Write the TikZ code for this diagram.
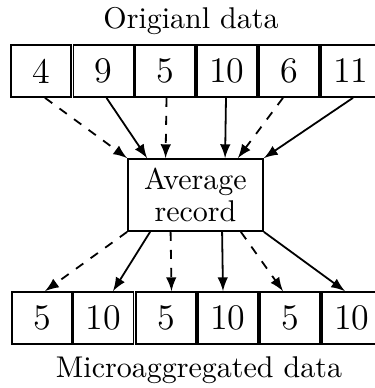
\documentclass[tikz,border=0pt]{standalone}
\usetikzlibrary{calc}
\tikzset{cell/.style={draw,font=\large,minimum width=20pt,minimum height=17.3pt,inner sep=0pt},
         avgbox/.style={draw,align=center,minimum width=45pt,minimum height=24pt,inner sep=0pt}}

\begin{document}
\begin{tikzpicture}[x=0.3333pt,y=-0.3333pt,>=latex,semithick]
        \useasboundingbox (0,0) rectangle (375,388);
        \node (orig) at (191,21) {Origianl data};
        \node[cell] (t1) at (41,71) {4};
        \node[cell] (t2) at (103.5,71) {9};
        \node[cell] (t3) at (165,71) {5};
        \node[cell] (t4) at (227,71) {10};
        \node[cell] (t5) at (289,71) {6};
        \node[cell] (t6) at (351,71) {11};
        \node[avgbox] (avg) at (195.5,195) {Average\\[-1.5pt]record};
        \node[cell] (b1) at (42,318) {5};
        \node[cell] (b2) at (103.5,318) {10};
        \node[cell] (b3) at (166,318) {5};
        \node[cell] (b4) at (228,318) {10};
        \node[cell] (b5) at (290,318) {5};
        \node[cell] (b6) at (352,318) {10};
        \node (micro) at (199,370.5) {Microaggregated data};
        % into the average record
        \draw [->, dashed] ($(t1.south)+(4,0)$) -- (avg.north west);
        \draw [->] ($(t2.south)+(3,0)$) -- ($(avg.north west)+(20,0)$);
        \draw [->, dashed] ($(t3.south)+(1.5,0)$) -- ($(avg.north west)+(38.5,0)$);
        \draw [->] ($(t4.south)+(-1,0)$) -- ($(avg.north west)+(98,0)$);
        \draw [->, dashed] ($(t5.south)+(-6,0)$) -- ($(avg.north east)+(-26,0)$);
        \draw [->] ($(t6.south)+(2,0)$) -- (avg.north east);
        % out to the microaggregated data
        \draw [->, dashed] (avg.south west) -- ($(b1.north)+(3,0)$);
        \draw [->] ($(avg.south west)+(23,0)$) -- ($(b2.north)+(9.5,0)$);
        \draw [->, dashed] ($(avg.south west)+(43.5,0)$) -- ($(b3.north)+(5.5,0)$);
        \draw [->] ($(avg.south west)+(95,0)$) -- ($(b4.north)+(-5,0)$);
        \draw [->, dashed] ($(avg.south east)+(-23,0)$) -- ($(b5.north)+(-7,0)$);
        \draw [->] (avg.south east) -- ($(b6.north)+(-7,0)$);
\end{tikzpicture}
\end{document}
